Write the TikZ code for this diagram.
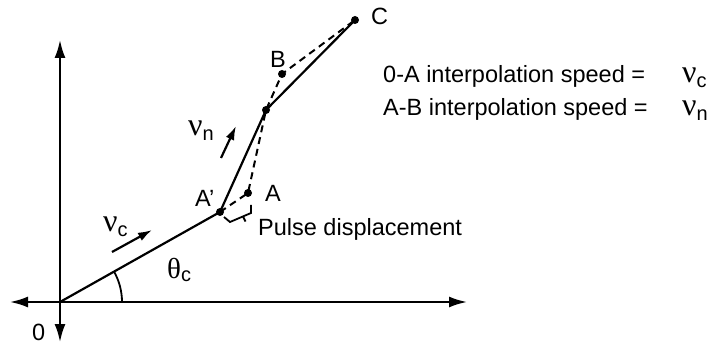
\documentclass[tikz,border=0pt]{standalone}
\usepackage{fontspec}
\setmainfont{Liberation Sans}
\newfontfamily\grkfont{Liberation Serif}
\usetikzlibrary{arrows.meta}
\tikzset{
  axisline/.style={line width=2.2pt, {Latex[length=18pt,width=11pt]}-{Latex[length=18pt,width=11pt]}},
  pathline/.style={line width=2.2pt},
  dashline/.style={line width=2pt, dash pattern=on 7pt off 5pt},
  velarrow/.style={line width=2.2pt, -{Latex[length=14pt,width=9pt]}},
  ptdot/.style={circle, fill, inner sep=0pt, minimum size=8pt},
  lbl/.style={font=\fontsize{23.5}{28}\selectfont, inner sep=0pt, anchor=base west},
  thinline/.style={line width=1.8pt}
}
\newcommand{\grsym}[2]{{\fontsize{32}{32}\grkfont #1}\raisebox{-5pt}{\fontsize{20}{20}\selectfont #2}}
\begin{document}
\begin{tikzpicture}[x=1pt,y=-1pt]
\useasboundingbox (0,0) rectangle (719,347);
% axes
\coordinate (O) at (60,302);
\coordinate (xl) at (10,302);
\coordinate (xr) at (467,302);
\coordinate (yt) at (60,40);
\coordinate (yb) at (60,342);
\draw[axisline] (xl) -- (xr);
\draw[axisline] (yt) -- (yb);
% points
\node[ptdot] (Ap) at (220,212) {};
\node[ptdot] (A) at (248,193) {};
\node[ptdot] (K) at (266,110) {};
\node[ptdot] (B) at (282,74) {};
\node[ptdot] (C) at (355,20) {};
% solid path
\draw[pathline] (O) -- (Ap.center) -- (K.center) -- (C.center);
% dashed path
\draw[dashline] (Ap.center) -- (A.center) -- (K.center) -- (B.center) -- (C.center);
% angle
\draw[thinline] ([shift={(62pt,0pt)}]O) arc[start angle=0,end angle=29.5,radius=62pt];
% bracket
\coordinate (br1) at (224,217);
\coordinate (br2) at (230,222);
\coordinate (br3) at (251,213);
\coordinate (br4) at (251,205);
\coordinate (bt1) at (243,216.5);
\coordinate (bt2) at (245.5,221.5);
\draw[thinline] (br1) -- (br2) -- (br3) -- (br4);
\draw[thinline] (bt1) -- (bt2);
% velocity arrows
\coordinate (vc1) at (112,252);
\coordinate (vc2) at (152,230);
\coordinate (vn1) at (221,158);
\coordinate (vn2) at (236,126);
\draw[velarrow] (vc1) -- (vc2);
\draw[velarrow] (vn1) -- (vn2);
% labels
\node[lbl] (l0) at (32,340) {0};
\node[lbl] (lAp) at (195,207) {A’};
\node[lbl] (lA) at (265,202) {A};
\node[lbl] (lB) at (270,68) {B};
\node[lbl] (lC) at (371,25) {C};
\node[lbl] (lpulse) at (258,235) {Pulse displacement};
\node[lbl] (lvc) at (103,232) {\grsym{ν}{c}};
\node[lbl] (lvn) at (188,136) {\grsym{ν}{n}};
\node[lbl] (lth) at (167,278) {{\fontsize{29}{29}\grkfont θ}\raisebox{-3pt}{\fontsize{20}{20}\selectfont c}};
\node[lbl] (line1) at (383,83) {0-A interpolation speed =};
\node[lbl] (line2) at (383,116) {A-B interpolation speed =};
\node[lbl] (rvc) at (682,83) {\grsym{ν}{c}};
\node[lbl] (rvn) at (682,116) {\grsym{ν}{n}};
\end{tikzpicture}
\end{document}
